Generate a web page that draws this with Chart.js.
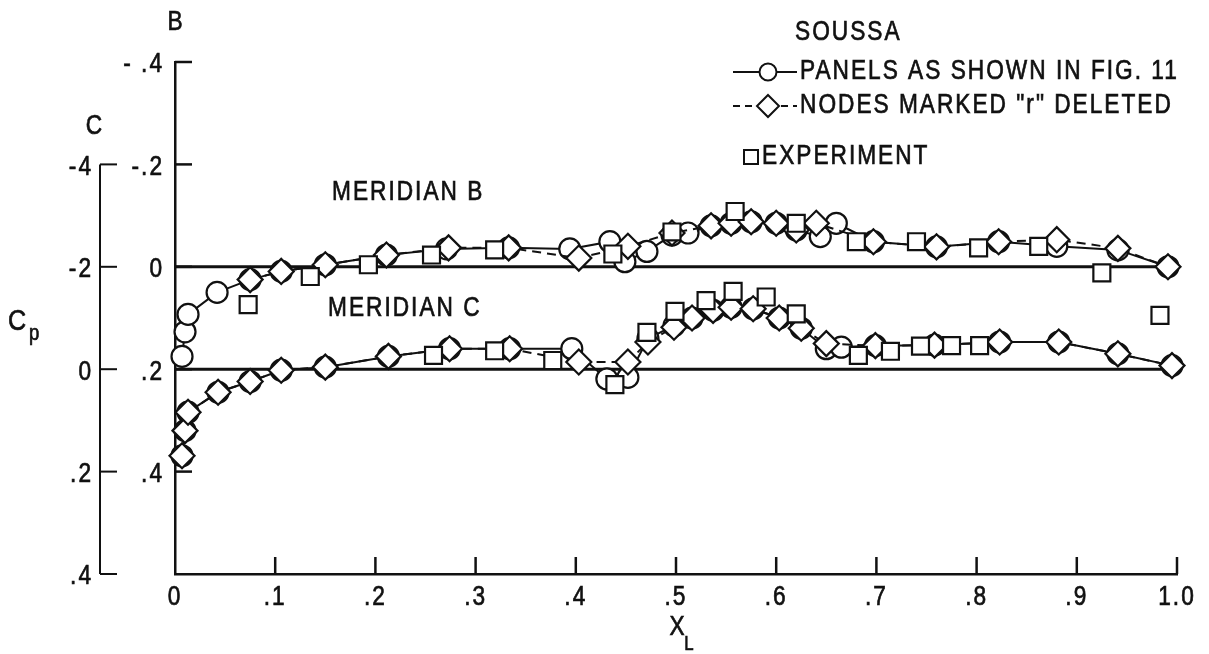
<!DOCTYPE html>
<html>
<head>
<meta charset="utf-8">
<script src="https://cdn.jsdelivr.net/npm/chart.js@4/dist/chart.umd.min.js"></script>
<style>
  html, body { margin: 0; padding: 0; background: #fff; }
  #wrap { width: 1209px; height: 654px; }
</style>
</head>
<body>
<div id="wrap"><canvas id="cp" width="1209" height="654"></canvas></div>
<script>
// stations x/L and Cp
// meridian B sits on the inner scale, meridian C on the outer scale (its zero is at B = .2)
const C_SHIFT = 0.2;

const xB_panels  = [0.007, 0.010, 0.013, 0.042, 0.075, 0.106, 0.150, 0.211, 0.271, 0.333, 0.394, 0.434, 0.449, 0.471, 0.496, 0.512, 0.535, 0.555, 0.575, 0.600, 0.620, 0.644, 0.660, 0.697, 0.760, 0.822, 0.880, 0.941, 0.991];
const cpB_panels = [0.175, 0.127, 0.093, 0.050, 0.025, 0.009, -0.004, -0.023, -0.035, -0.037, -0.035, -0.049, -0.010, -0.030, -0.062, -0.066, -0.080, -0.085, -0.088, -0.085, -0.072, -0.059, -0.085, -0.049, -0.039, -0.049, -0.040, -0.033, 0.000];

const xB_nodes  = [0.075, 0.106, 0.150, 0.211, 0.273, 0.333, 0.403, 0.452, 0.496, 0.535, 0.555, 0.575, 0.600, 0.620, 0.640, 0.697, 0.760, 0.822, 0.880, 0.941, 0.991];
const cpB_nodes = [0.025, 0.009, -0.004, -0.023, -0.037, -0.037, -0.017, -0.040, -0.066, -0.080, -0.085, -0.088, -0.085, -0.072, -0.085, -0.049, -0.039, -0.049, -0.053, -0.036, 0.000];

const xB_exp  = [0.073, 0.135, 0.193, 0.256, 0.319, 0.437, 0.496, 0.559, 0.620, 0.680, 0.740, 0.802, 0.862, 0.925];
const cpB_exp = [0.074, 0.019, -0.004, -0.023, -0.033, -0.025, -0.068, -0.108, -0.085, -0.049, -0.049, -0.037, -0.040, 0.012];

const xC_panels  = [0.007, 0.010, 0.013, 0.043, 0.075, 0.106, 0.150, 0.213, 0.274, 0.334, 0.396, 0.431, 0.452, 0.472, 0.498, 0.516, 0.537, 0.555, 0.577, 0.603, 0.625, 0.650, 0.665, 0.699, 0.758, 0.823, 0.882, 0.941, 0.995];
const cpC_panels = [0.169, 0.120, 0.084, 0.045, 0.024, 0.002, -0.004, -0.025, -0.040, -0.040, -0.040, 0.019, 0.016, -0.060, -0.085, -0.100, -0.115, -0.121, -0.118, -0.100, -0.080, -0.040, -0.043, -0.046, -0.047, -0.053, -0.053, -0.030, -0.007];

const xC_nodes  = [0.007, 0.010, 0.013, 0.043, 0.075, 0.106, 0.150, 0.213, 0.274, 0.334, 0.403, 0.452, 0.472, 0.498, 0.516, 0.537, 0.555, 0.577, 0.603, 0.625, 0.650, 0.699, 0.758, 0.823, 0.882, 0.941, 0.995];
const cpC_nodes = [0.169, 0.120, 0.084, 0.045, 0.024, 0.002, -0.004, -0.025, -0.040, -0.040, -0.014, -0.014, -0.053, -0.082, -0.100, -0.115, -0.121, -0.118, -0.100, -0.080, -0.050, -0.046, -0.047, -0.053, -0.053, -0.030, -0.007];

const xC_exp  = [0.258, 0.319, 0.377, 0.439, 0.471, 0.499, 0.530, 0.557, 0.590, 0.620, 0.682, 0.714, 0.744, 0.775, 0.803, 0.983];
const cpC_exp = [-0.027, -0.036, -0.017, 0.030, -0.072, -0.113, -0.134, -0.152, -0.141, -0.108, -0.027, -0.035, -0.045, -0.046, -0.046, -0.105];

// tick values and the labels as printed
const xTicks      = [0, 0.1, 0.2, 0.3, 0.4, 0.5, 0.6, 0.7, 0.8, 0.9, 1.0];
const xTickLabels = ['0', '.1', '.2', '.3', '.4', '.5', '.6', '.7', '.8', '.9', '1.0'];
const bTicks      = [-0.4, -0.2, 0, 0.2, 0.4];
const bTickLabels = ['- .4', '-.2', '0', '.2', '.4'];
const cTicks      = [-0.4, -0.2, 0, 0.2, 0.4];
const cTickLabels = ['-4', '-2', '0', '.2', '.4'];

const FONT = '"Liberation Sans", Arial, sans-serif';
const INK = '#111';

function pts(xs, ys, shift) {
  return xs.map((x, i) => ({ x: x, y: ys[i] + (shift || 0) }));
}

function markerSet(data, style, radius, dashed, line, order) {
  return {
    data: data,
    showLine: line,
    borderColor: INK,
    borderWidth: 2,
    borderDash: dashed ? [9, 6] : [],
    pointStyle: style,
    pointRadius: radius,
    pointBackgroundColor: '#fff',
    pointBorderColor: INK,
    pointBorderWidth: 2.2,
    tension: 0,
    clip: false,
    order: order
  };
}

function zeroLine(y) {
  return {
    data: [{ x: 0, y: y }, { x: 1, y: y }],
    showLine: true,
    borderColor: INK,
    borderWidth: 3,
    pointRadius: 0,
    order: 9
  };
}

// lettering in the figure is tall and narrow with open spacing
function text(ctx, s, x, y, size, align) {
  const sx = 0.84, gap = 2;
  ctx.save();
  ctx.font = size + 'px ' + FONT;
  ctx.letterSpacing = (gap / sx) + 'px';
  ctx.textAlign = align || 'left';
  ctx.textBaseline = 'middle';
  ctx.translate(x, y);
  ctx.scale(sx, 1);
  ctx.lineWidth = 0.7;
  ctx.strokeStyle = INK;
  ctx.fillText(s, 0, 0);
  ctx.strokeText(s, 0, 0);
  ctx.restore();
}

// axes furniture, tick labels, captions and the key
const furniture = {
  id: 'furniture',
  afterDraw(chart) {
    const ctx = chart.ctx;
    const xs = chart.scales.x, ys = chart.scales.y;
    const area = chart.chartArea;
    ctx.save();
    ctx.strokeStyle = INK;
    ctx.fillStyle = INK;
    ctx.lineWidth = 2.5;

    // inner ticks on x axis
    xTicks.forEach((v, i) => {
      const px = xs.getPixelForValue(v);
      if (i > 0) {
        ctx.beginPath(); ctx.moveTo(px, area.bottom); ctx.lineTo(px, area.bottom - 17); ctx.stroke();
      }
      text(ctx, xTickLabels[i], px, area.bottom + 24, 27, 'center');
    });

    // B scale ticks
    bTicks.forEach((v, i) => {
      const py = ys.getPixelForValue(v);
      ctx.beginPath(); ctx.moveTo(area.left, py); ctx.lineTo(area.left + 17, py); ctx.stroke();
      text(ctx, bTickLabels[i], 164, py + 3, 27, 'right');
    });

    // C scale: its own vertical line further left
    const cx = 100;
    const cTop = ys.getPixelForValue(cTicks[0] + C_SHIFT);
    const cBot = ys.getPixelForValue(cTicks[cTicks.length - 1] + C_SHIFT);
    ctx.lineWidth = 2;
    ctx.beginPath(); ctx.moveTo(cx, cTop); ctx.lineTo(cx, cBot); ctx.stroke();
    cTicks.forEach((v, i) => {
      const py = ys.getPixelForValue(v + C_SHIFT);
      ctx.beginPath(); ctx.moveTo(cx, py); ctx.lineTo(cx + 17, py); ctx.stroke();
      text(ctx, cTickLabels[i], 93, py + 3, 27, 'right');
    });

    // scale captions
    text(ctx, 'B', 176, 23, 27, 'center');
    text(ctx, 'C', 95, 127, 27, 'center');
    text(ctx, 'C', 8, 322, 30, 'left');
    text(ctx, 'p', 29, 334, 22, 'left');
    text(ctx, 'X', 678, 628, 27, 'center');
    text(ctx, 'L', 690, 644, 20, 'center');

    text(ctx, 'MERIDIAN B', 332, 193, 27, 'left');
    text(ctx, 'MERIDIAN C', 328, 309, 27, 'left');

    // key
    text(ctx, 'SOUSSA', 795, 33, 27, 'left');
    const kx0 = 733, kx1 = 797, kc = 768;
    ctx.lineWidth = 2;
    ctx.setLineDash([]);
    ctx.beginPath(); ctx.moveTo(kx0, 72); ctx.lineTo(kx1, 72); ctx.stroke();
    ctx.beginPath(); ctx.arc(kc, 72, 8.5, 0, Math.PI * 2);
    ctx.fillStyle = '#fff'; ctx.fill(); ctx.stroke();
    ctx.fillStyle = INK;
    text(ctx, 'PANELS AS SHOWN IN FIG. 11', 800, 72, 27, 'left');

    ctx.lineWidth = 2;
    ctx.setLineDash([7, 5]);
    ctx.beginPath(); ctx.moveTo(kx0, 106); ctx.lineTo(kx1, 106); ctx.stroke();
    ctx.setLineDash([]);
    ctx.beginPath();
    ctx.moveTo(kc, 95); ctx.lineTo(kc + 11, 106); ctx.lineTo(kc, 117); ctx.lineTo(kc - 11, 106); ctx.closePath();
    ctx.fillStyle = '#fff'; ctx.fill(); ctx.stroke();
    ctx.fillStyle = INK;
    text(ctx, 'NODES MARKED "r" DELETED', 800, 106, 27, 'left');

    ctx.lineWidth = 2;
    ctx.beginPath(); ctx.rect(744, 150, 14, 14);
    ctx.fillStyle = '#fff'; ctx.fill(); ctx.stroke();
    ctx.fillStyle = INK;
    text(ctx, 'EXPERIMENT', 762, 157, 27, 'left');

    ctx.restore();
  }
};

new Chart(document.getElementById('cp'), {
  type: 'scatter',
  data: {
    datasets: [
      zeroLine(0),
      zeroLine(C_SHIFT),
      markerSet(pts(xB_panels, cpB_panels), 'circle', 10.5, false, true, 3),
      markerSet(pts(xB_nodes, cpB_nodes), 'rectRot', 12.5, true, true, 2),
      markerSet(pts(xB_exp, cpB_exp), 'rect', 12, false, false, 1),
      markerSet(pts(xC_panels, cpC_panels, C_SHIFT), 'circle', 10.5, false, true, 3),
      markerSet(pts(xC_nodes, cpC_nodes, C_SHIFT), 'rectRot', 12.5, true, true, 2),
      markerSet(pts(xC_exp, cpC_exp, C_SHIFT), 'rect', 12, false, false, 1)
    ]
  },
  options: {
    responsive: false,
    devicePixelRatio: 1,
    animation: false,
    layout: { padding: { left: 175, right: 32, top: 62, bottom: 80 } },
    plugins: { legend: { display: false }, tooltip: { enabled: false } },
    scales: {
      x: {
        type: 'linear', min: 0, max: 1,
        grid: { display: false },
        border: { display: true, color: INK, width: 2.5 },
        ticks: { display: false },
        afterFit: s => { s.height = 0; }
      },
      y: {
        type: 'linear', min: -0.4, max: 0.6, reverse: true,
        grid: { display: false },
        border: { display: true, color: INK, width: 2.5 },
        ticks: { display: false },
        afterFit: s => { s.width = 0; }
      }
    }
  },
  plugins: [furniture]
});
</script>
</body>
</html>
